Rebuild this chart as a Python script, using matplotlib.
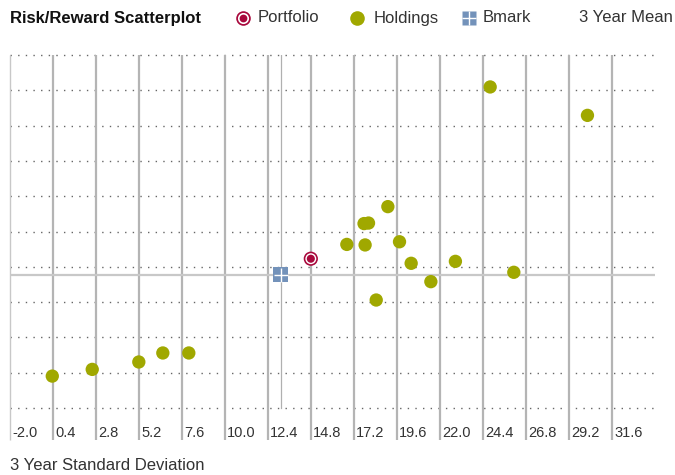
import matplotlib
matplotlib.use("Agg")
import matplotlib.pyplot as plt
from matplotlib.lines import Line2D
import matplotlib.transforms as mtransforms

plt.rcParams['font.family'] = ['Liberation Sans Narrow', 'Liberation Sans', 'DejaVu Sans']

# ---- data ----
x_ticks = [-2.0, 0.4, 2.8, 5.2, 7.6, 10.0, 12.4, 14.8, 17.2, 19.6, 22.0, 24.4, 26.8, 29.2, 31.6]
x_tick_labels = ["-2.0", "0.4", "2.8", "5.2", "7.6", "10.0", "12.4", "14.8", "17.2", "19.6",
                 "22.0", "24.4", "26.8", "29.2", "31.6"]
y_grid = [-4, -2, 0, 2, 4, 6, 8, 10, 12, 14, 16]

holdings_sd = [19.09, 17.76, 18.01, 16.80, 17.82, 19.74, 20.39, 22.86, 21.49, 18.44, 26.12,
               0.36, 2.59, 5.19, 6.53, 7.98, 24.80, 30.23]
holdings_mean = [7.41, 6.45, 6.48, 5.27, 5.24, 5.42, 4.20, 4.31, 3.16, 2.12, 3.69,
                 -2.19, -1.81, -1.39, -0.88, -0.88, 14.19, 12.58]
portfolio_sd = [14.79]
portfolio_mean = [4.46]
bmark_sd = [13.10]
bmark_mean = [3.55]

OLIVE = '#a0a800'
RED = '#a8083c'
BLUE = '#7392ba'
GRID = '#b4b4b4'
TXT = '#333333'

W, H = 675, 475
fig = plt.figure(figsize=(W / 100, H / 100), dpi=100)
ax = fig.add_axes([10 / W, 1 - 440 / H, 645 / W, 385 / H])
ax.set_xlim(-2.0, 34.0)
ax.set_ylim(-5.81, 16.0)
ax.axis('off')

# dotted horizontal grid
for yv in y_grid:
    ax.plot([-2.0, 34.0], [yv, yv], color='#666666', lw=1.0, ls=(0, (1, 4.5)),
            zorder=1, clip_on=False)

# vertical grid lines
for i, xv in enumerate(x_ticks):
    ax.plot([xv, xv], [-5.81, 16.0], color=GRID if i > 0 else '#c8c8c8',
            lw=1.6 if i > 0 else 1.0, zorder=2, solid_capstyle='butt', clip_on=False)

trans = mtransforms.blended_transform_factory(ax.transData, ax.transAxes)
for xv, lab in zip(x_ticks, x_tick_labels):
    ax.text(xv + 0.12, 0.0, lab, transform=trans, ha='left', va='bottom',
            fontsize=10.5, color=TXT)

# benchmark crosshair
ax.plot([-2.0, 34.0], [bmark_mean[0]] * 2, color='#c8c8c8', lw=1.6, zorder=2)
ax.plot([bmark_sd[0]] * 2, [-4.0, 16.0], color='#b0b0b0', lw=0.9, zorder=2)

# holdings
ax.scatter(holdings_sd, holdings_mean, s=92, color=OLIVE, edgecolors='none', zorder=4)

# portfolio
ax.scatter(portfolio_sd, portfolio_mean, s=105, color=RED, edgecolors='none', zorder=5)
ax.scatter(portfolio_sd, portfolio_mean, s=62, color='white', edgecolors='none', zorder=6)
ax.scatter(portfolio_sd, portfolio_mean, s=34, color=RED, edgecolors='none', zorder=7)

# benchmark
ax.scatter(bmark_sd, bmark_mean, s=110, marker='s', color=BLUE, edgecolors='none', zorder=5)
ax.scatter(bmark_sd, bmark_mean, s=110, marker='+', color='white', linewidths=1.0, zorder=6)

# ---- header ----
def fx(px):
    return px / W

def fy(py):
    return 1 - py / H

fig.text(fx(10), fy(18), "Risk/Reward Scatterplot", fontsize=12, fontweight='bold',
         color='#111111', ha='left', va='center')

# legend markers
fig.add_artist(Line2D([fx(243)], [fy(18)], transform=fig.transFigure, marker='o',
                      markersize=10.5, markerfacecolor=RED, markeredgecolor='none', ls=''))
fig.add_artist(Line2D([fx(243)], [fy(18)], transform=fig.transFigure, marker='o',
                      markersize=8, markerfacecolor='white', markeredgecolor='none', ls=''))
fig.add_artist(Line2D([fx(243)], [fy(18)], transform=fig.transFigure, marker='o',
                      markersize=5.6, markerfacecolor=RED, markeredgecolor='none', ls=''))
fig.text(fx(258), fy(18), "Portfolio", fontsize=12, color=TXT, ha='left', va='center')

fig.add_artist(Line2D([fx(357)], [fy(18)], transform=fig.transFigure, marker='o',
                      markersize=10.5, markerfacecolor=OLIVE, markeredgecolor='none', ls=''))
fig.text(fx(374), fy(18), "Holdings", fontsize=12, color=TXT, ha='left', va='center')

fig.add_artist(Line2D([fx(469)], [fy(18)], transform=fig.transFigure, marker='s',
                      markersize=10, markerfacecolor=BLUE, markeredgecolor='none', ls=''))
fig.add_artist(Line2D([fx(469)], [fy(18)], transform=fig.transFigure, marker='+',
                      markersize=10, markeredgecolor='white', markeredgewidth=1.0, ls=''))
fig.text(fx(483), fy(18), "Bmark", fontsize=12, color=TXT, ha='left', va='center')

fig.text(fx(673), fy(18), "3 Year Mean", fontsize=12, color=TXT, ha='right', va='center')

fig.text(fx(10), fy(465), "3 Year Standard Deviation", fontsize=12, color=TXT,
         ha='left', va='center')

fig.savefig("out.png", dpi=100)
